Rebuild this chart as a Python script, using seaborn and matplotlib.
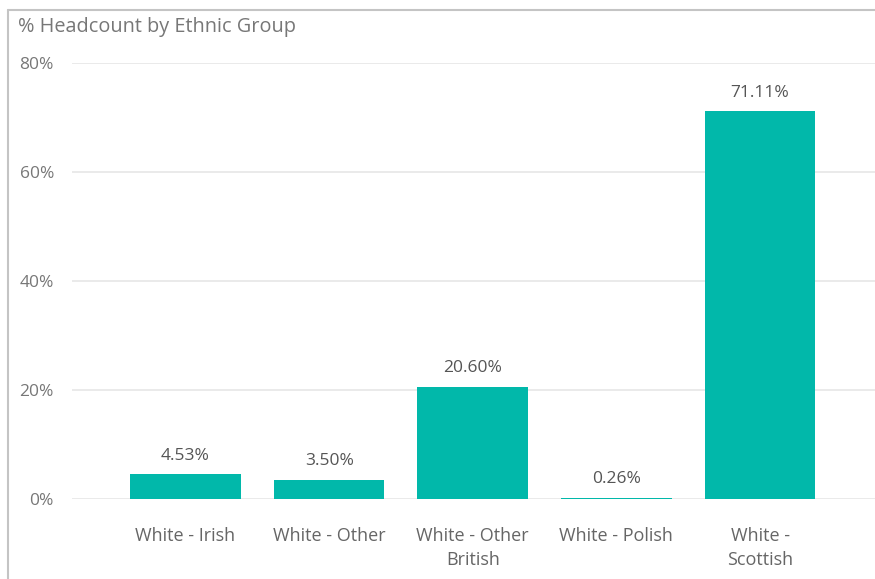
import matplotlib
matplotlib.use("Agg")
import matplotlib.pyplot as plt
import seaborn as sns
import pandas as pd
from matplotlib.lines import Line2D

# Headcount share by ethnic group (percent)
groups = ["White - Irish", "White - Other", "White - Other\nBritish", "White - Polish", "White -\nScottish"]
shares = [4.53, 3.50, 20.60, 0.26, 71.11]
y_ticks = [0, 20, 40, 60, 80]
y_tick_labels = ["0%", "20%", "40%", "60%", "80%"]
chart_title = "% Headcount by Ethnic Group"

df = pd.DataFrame({"group": groups, "share": shares})

sns.set_theme(style="white")
plt.rcParams["font.family"] = ["Open Sans", "DejaVu Sans"]

W, H = 875, 579
fig = plt.figure(figsize=(W / 100, H / 100), dpi=100)
left, right, top, bottom = 72, 875, 63, 499
ax = fig.add_axes([left / W, 1 - bottom / H, (right - left) / W, (bottom - top) / H])

bar_color = "#01B8AA"
sns.barplot(data=df, x="group", y="share", color=bar_color, width=0.77,
            saturation=1, linewidth=0, ax=ax, zorder=3)

ax.set_ylim(0, 80)
ax.set_xlim(-0.79, 4.8)
ax.set_yticks(y_ticks)
ax.set_yticklabels(y_tick_labels)
ax.yaxis.grid(True, color="#e6e6e6", linewidth=1.2, zorder=0)
ax.xaxis.grid(False)
for s in ax.spines.values():
    s.set_visible(False)
ax.tick_params(axis="y", length=0, pad=13, labelsize=12.5, labelcolor="#777777")
ax.tick_params(axis="x", length=0, pad=20, labelsize=13, labelcolor="#666666")
for lbl in ax.get_xticklabels():
    lbl.set_linespacing(1.45)
ax.set_xlabel("")
ax.set_ylabel("")

# value labels above each bar
for i, v in enumerate(shares):
    ax.annotate(f"{v:.2f}%", (i, v), xytext=(0, 13.5), textcoords="offset points",
                ha="center", va="center", fontsize=12.5, color="#555555")

# title
fig.text(18 / W, 1 - 27 / H, chart_title, ha="left", va="center",
         fontsize=14.3, color="#777777")

# panel border (top and left edges)
fig.add_artist(Line2D([8 / W, 1], [1 - 10 / H, 1 - 10 / H], color="#c4c4c4",
                      linewidth=1.5, transform=fig.transFigure))
fig.add_artist(Line2D([8 / W, 8 / W], [0, 1 - 10 / H], color="#c4c4c4",
                      linewidth=1.5, transform=fig.transFigure))

fig.savefig("out.png", dpi=100, facecolor="white")
